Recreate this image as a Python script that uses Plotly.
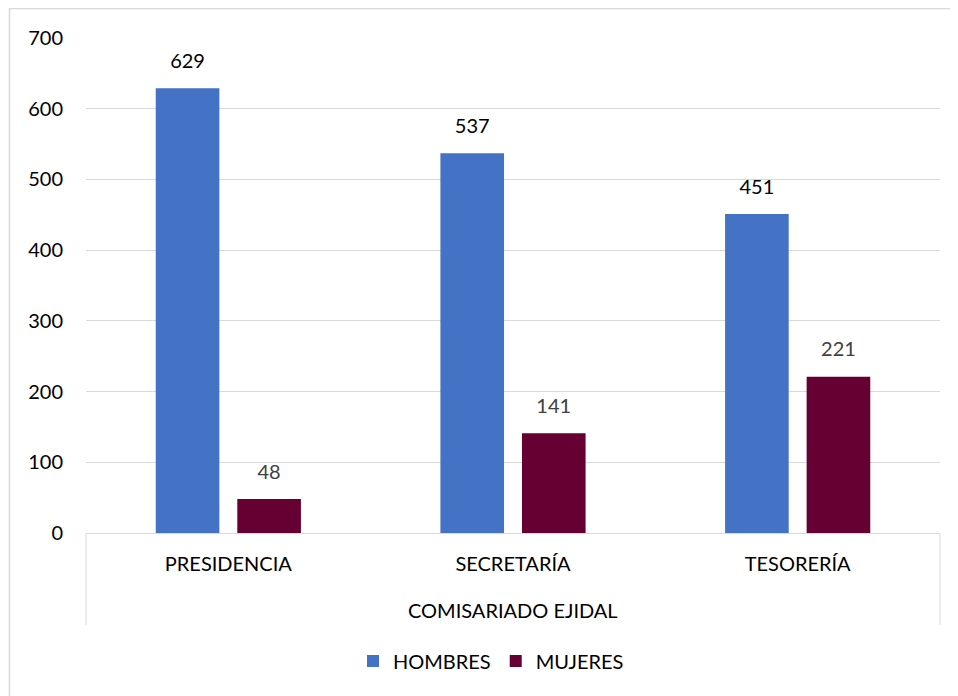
import plotly.graph_objects as go

categories = ["PRESIDENCIA", "SECRETARÍA", "TESORERÍA"]
parent = "COMISARIADO EJIDAL"
hombres = [629, 537, 451]
mujeres = [48, 141, 221]
series_names = ["HOMBRES", "MUJERES"]
y_ticks = [0, 100, 200, 300, 400, 500, 600, 700]

FONT = "Lato"
C_H = "#4472C4"
C_M = "#660033"

# page body has an 8px margin: work in figure coordinates = window - 8
OFF = 8
W, H = 958, 696
L, T = 86 - OFF, 38 - OFF
pw, ph = 854, 495
R, B = W - L - pw, H - T - ph

fig = go.Figure()
fig.add_trace(go.Bar(x=categories, y=hombres, name=series_names[0], marker_color=C_H,
                     marker_line_width=0))
fig.add_trace(go.Bar(x=categories, y=mujeres, name=series_names[1], marker_color=C_M,
                     marker_line_width=0))
# data labels
fig.add_trace(go.Scatter(x=categories, y=hombres, mode="markers+text", text=[str(v) for v in hombres],
                         textposition="top center", marker=dict(size=23, opacity=0),
                         textfont=dict(family=FONT, size=20, color="#000000"),
                         showlegend=False, hoverinfo="skip", cliponaxis=False))
fig.add_trace(go.Scatter(x=categories, y=mujeres, mode="markers+text", text=[str(v) for v in mujeres],
                         textposition="top center", marker=dict(size=23, opacity=0),
                         textfont=dict(family=FONT, size=20, color="#404040"),
                         showlegend=False, hoverinfo="skip", cliponaxis=False))

def wx(px):  # window px -> paper x
    return (px - OFF - L) / pw

def wy(py):  # window px -> paper y
    return (T + ph - (py - OFF)) / ph

fig.update_layout(
    width=W, height=H,
    margin=dict(l=L, r=R, t=T, b=B),
    paper_bgcolor="white", plot_bgcolor="white",
    barmode="group", bargap=0.427, bargroupgap=0.22,
    scattermode="group", scattergap=0.427,
    font=dict(family=FONT, size=20, color="#000000"),
    showlegend=True,
    legend=dict(orientation="h", x=wx(491), xanchor="center",
                y=wy(661), yanchor="middle",
                font=dict(family=FONT, size=20, color="#000000"),
                traceorder="normal"),
    shapes=[
        dict(type="rect", xref="paper", yref="paper",
             x0=wx(9.5), x1=wx(975), y0=wy(710), y1=wy(8.5),
             line=dict(color="#d9d9d9", width=1.5), layer="below"),
        dict(type="line", xref="paper", yref="paper", x0=0, x1=0, y0=0, y1=wy(625),
             line=dict(color="#d9d9d9", width=1)),
        dict(type="line", xref="paper", yref="paper", x0=1, x1=1, y0=0, y1=wy(625),
             line=dict(color="#d9d9d9", width=1)),
    ],
    annotations=[dict(text=parent, xref="paper", yref="paper", x=0.5, y=wy(610),
                      xanchor="center", yanchor="middle", showarrow=False,
                      font=dict(family=FONT, size=20, color="#000000"))],
)
fig.update_yaxes(range=[0, 700], tickvals=y_ticks, showgrid=True, gridcolor="#d9d9d9",
                 gridwidth=1, zeroline=False, showline=False, ticks="",
                 ticklabelstandoff=22, tickfont=dict(family=FONT, size=20, color="#000000"))
fig.update_xaxes(type="category", showline=True, linecolor="#d9d9d9", linewidth=1,
                 ticks="", ticklabelstandoff=13, tickfont=dict(family=FONT, size=20, color="#000000"))

fig.write_html("out.html")
